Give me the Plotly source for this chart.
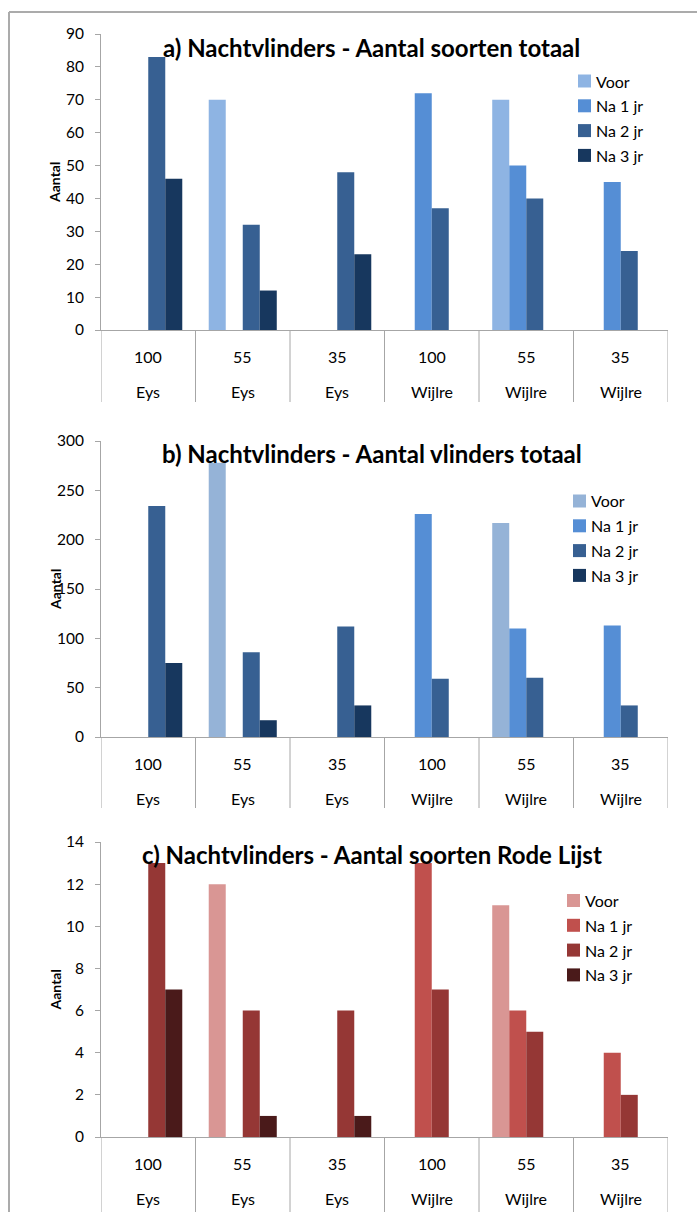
import plotly.graph_objects as go

# Plot sizes (m) and sites along the x axis
sizes = ["100", "55", "35", "100", "55", "35"]
sites = ["Eys", "Eys", "Eys", "Wijlre", "Wijlre", "Wijlre"]
series = ["Voor", "Na 1 jr", "Na 2 jr", "Na 3 jr"]

# a) number of moth species
soorten_voor = [None, 70, None, None, 70, None]
soorten_na1 = [None, None, None, 72, 50, 45]
soorten_na2 = [83, 32, 48, 37, 40, 24]
soorten_na3 = [46, 12, 23, None, None, None]

# b) number of moths
vlinders_voor = [None, 278, None, None, 217, None]
vlinders_na1 = [None, None, None, 226, 110, 113]
vlinders_na2 = [234, 86, 112, 59, 60, 32]
vlinders_na3 = [75, 17, 32, None, None, None]

# c) number of Red List species
rodelijst_voor = [None, 12, None, None, 11, None]
rodelijst_na1 = [None, None, None, 13, 6, 4]
rodelijst_na2 = [13, 6, 6, 7, 5, 2]
rodelijst_na3 = [7, 1, 1, None, None, None]

titles = [
    "a) Nachtvlinders - Aantal soorten totaal",
    "b) Nachtvlinders - Aantal vlinders totaal",
    "c) Nachtvlinders - Aantal soorten Rode Lijst",
]

W, H = 697, 1212
FONT = "Lato"
AXIS_GREY = "#A6A6A6"


def px(x):
    return x / W


def py(y):
    return 1 - y / H


blues_a = ["#8EB4E3", "#558ED5", "#376092", "#17375E"]
blues_b = ["#95B3D7", "#558ED5", "#376092", "#17375E"]
reds = ["#D99694", "#C0504D", "#953735", "#4A1A1A"]

panels = [
    dict(data=[soorten_voor, soorten_na1, soorten_na2, soorten_na3], colors=blues_a,
         top=34, bottom=330, ymax=90, dtick=10, title_y=47, leg_x=578, leg_y=81, div_end=402),
    dict(data=[vlinders_voor, vlinders_na1, vlinders_na2, vlinders_na3], colors=blues_b,
         top=441, bottom=737, ymax=300, dtick=50, title_y=453, leg_x=573, leg_y=501, div_end=808),
    dict(data=[rodelijst_voor, rodelijst_na1, rodelijst_na2, rodelijst_na3], colors=reds,
         top=842, bottom=1137, ymax=14, dtick=2, title_y=854, leg_x=567, leg_y=900.5, div_end=1212),
]

x_left, x_right = 101, 668
idx = list(range(len(sizes)))
LEG_STEP = 24.8
SQ = 13

fig = go.Figure()
shapes = []
annotations = []
layout = {}

for p, panel in enumerate(panels, start=1):
    sfx = "" if p == 1 else str(p)
    for i, (name, vals, col) in enumerate(zip(series, panel["data"], panel["colors"])):
        fig.add_trace(go.Bar(
            x=idx, y=vals, name=name, marker=dict(color=col, line=dict(width=0)),
            xaxis=f"x{sfx}", yaxis=f"y{sfx}", showlegend=False,
        ))
        # legend entry: colour swatch and series name
        cy = panel["leg_y"] + i * LEG_STEP
        shapes.append(dict(
            type="rect", xref="paper", yref="paper",
            x0=px(panel["leg_x"]), x1=px(panel["leg_x"] + SQ),
            y0=py(cy - SQ / 2), y1=py(cy + SQ / 2),
            fillcolor=col, line=dict(width=0),
        ))
        annotations.append(dict(
            x=px(panel["leg_x"] + SQ + 3), y=py(cy), xref="paper", yref="paper",
            xanchor="left", yanchor="middle", text=name, showarrow=False,
            font=dict(family=FONT, size=16, color="#000000"),
        ))

    layout[f"xaxis{sfx}"] = dict(
        domain=[px(x_left), px(x_right)], range=[-0.5, len(sizes) - 0.5],
        anchor=f"y{sfx}", showline=True, linecolor=AXIS_GREY, linewidth=1,
        showticklabels=False, ticks="", showgrid=False, zeroline=False,
        automargin=False, fixedrange=True,
    )
    layout[f"yaxis{sfx}"] = dict(
        domain=[py(panel["bottom"]), py(panel["top"])], range=[0, panel["ymax"]],
        dtick=panel["dtick"], anchor=f"x{sfx}", showline=True, linecolor=AXIS_GREY,
        linewidth=1, ticks="outside", ticklen=5, tickcolor=AXIS_GREY, tickwidth=1,
        showgrid=False, zeroline=False, ticklabelstandoff=8, automargin=False,
        tickfont=dict(family=FONT, size=15.5, color="#000000"),
    )

    # category dividers below the axis
    for k in range(len(sizes) + 1):
        shapes.append(dict(
            type="line", xref=f"x{sfx}", yref="paper", x0=k - 0.5, x1=k - 0.5,
            y0=py(panel["bottom"]), y1=py(panel["div_end"]),
            line=dict(color=AXIS_GREY, width=1),
        ))
    # two-level category labels
    for k, (s, site) in enumerate(zip(sizes, sites)):
        for text, off in ((s, 26), (site, 61)):
            annotations.append(dict(
                x=k, y=py(panel["bottom"] + off), xref=f"x{sfx}", yref="paper", text=text,
                xanchor="center", yanchor="middle", showarrow=False,
                font=dict(family=FONT, size=16, color="#000000"),
            ))
    # panel title
    annotations.append(dict(
        x=px(371.5), y=py(panel["title_y"]), xref="paper", yref="paper",
        xanchor="center", yanchor="middle",
        text=f"<b>{titles[p - 1]}</b>", showarrow=False,
        font=dict(family=FONT, size=24, color="#000000"),
    ))
    # y-axis title
    annotations.append(dict(
        x=px(55), y=py((panel["top"] + panel["bottom"]) / 2), xref="paper", yref="paper",
        xanchor="center", yanchor="middle",
        text="<b>Aantal</b>", textangle=-90, showarrow=False,
        font=dict(family=FONT, size=14, color="#000000"),
    ))

# outer chart frame (top and left edges)
shapes.append(dict(type="line", xref="paper", yref="paper", x0=px(9), x1=1, y0=py(12), y1=py(12),
                   line=dict(color="#ABABAB", width=2)))
shapes.append(dict(type="line", xref="paper", yref="paper", x0=px(9), x1=px(9), y0=py(12), y1=0,
                   line=dict(color="#ABABAB", width=2)))

fig.update_layout(
    width=W, height=H, margin=dict(l=0, r=0, t=0, b=0, autoexpand=False),
    paper_bgcolor="white", plot_bgcolor="white",
    barmode="group", bargap=0.28, bargroupgap=0, showlegend=False,
    shapes=shapes, annotations=annotations, **layout,
)

fig.write_html("out.html")
